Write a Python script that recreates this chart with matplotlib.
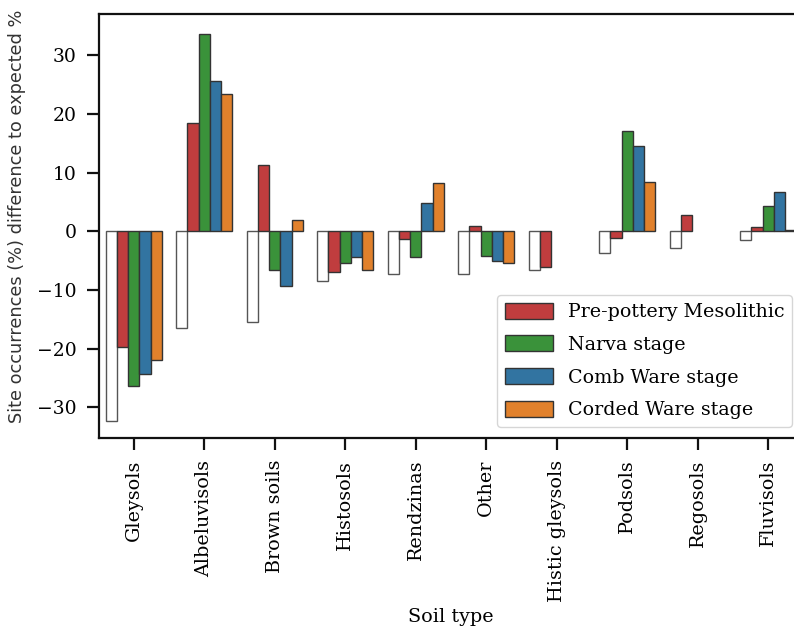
import numpy as np
import matplotlib
matplotlib.use("Agg")
import matplotlib.pyplot as plt

soil_types = ["Gleysols", "Albeluvisols", "Brown soils", "Histosols", "Rendzinas",
              "Other", "Histic gleysols", "Podsols", "Regosols", "Fluvisols"]
expected = [-32.3, -16.4, -15.5, -8.4, -7.2, -7.2, -6.5, -3.7, -2.8, -1.4]
pre_pottery = [-19.7, 18.5, 11.4, -6.9, -1.3, 1.0, -6.1, -1.1, 2.8, 0.7]
narva = [-26.3, 33.7, -6.5, -5.4, -4.3, -4.2, np.nan, 17.1, np.nan, 4.4]
comb_ware = [-24.3, 25.7, -9.3, -4.3, 4.8, -5.1, np.nan, 14.5, np.nan, 6.7]
corded_ware = [-21.9, 23.4, 1.9, -6.5, 8.3, -5.4, np.nan, 8.4, np.nan, 0.2]
legend_labels = ["Pre-pottery Mesolithic", "Narva stage", "Comb Ware stage", "Corded Ware stage"]
yticks = [-30, -20, -10, 0, 10, 20, 30]

series = [expected, pre_pottery, narva, comb_ware, corded_ware]
colors = ["white", "#c03d3e", "#3a923a", "#3274a1", "#e1812c"]
edges = ["#555555", "#333333", "#333333", "#333333", "#333333"]

serif = "DejaVu Serif"
fig = plt.figure(figsize=(7.94, 6.29), dpi=100)
ax = fig.add_axes([98.5 / 794, 1 - 438 / 629, 705 / 794, 424 / 629])

x = np.arange(len(soil_types))
n = len(series)
w = 0.8 / n
handles = []
for i, (vals, c, ec) in enumerate(zip(series, colors, edges)):
    off = -0.4 + w * (i + 0.5)
    b = ax.bar(x + off, vals, width=w, color=c, edgecolor=ec, linewidth=1.0)
    handles.append(b)

ax.set_xlim(-0.5, len(soil_types) - 0.5)
ax.set_ylim(-35.2, 37.05)
ax.set_yticks(yticks)
ax.set_xticks(x)
ax.set_xticklabels(soil_types, rotation=90, family=serif, fontsize=13.8)
for lab in ax.get_yticklabels():
    lab.set_family(serif)
    lab.set_fontsize(13.5)
ax.tick_params(axis="both", length=8.6, width=1.6, color="#111111", pad=7)
for s in ax.spines.values():
    s.set_linewidth(1.6)
    s.set_color("#111111")

fig.text(451 / 794, 1 - 617 / 629, "Soil type", family=serif, fontsize=13.8,
         ha="center", va="center")
fig.text(17 / 794, 1 - 216 / 629, "Site occurrences (%) difference to expected %",
         family="DejaVu Sans", fontsize=12.8, color="#333333", rotation=90,
         ha="center", va="center")

leg = ax.legend(handles[1:], legend_labels, loc="lower right",
                bbox_to_anchor=(792 / 794, (629 - 427) / 629),
                bbox_transform=fig.transFigure, borderaxespad=0,
                prop={"family": serif, "size": 13.7}, handlelength=2.5,
                handleheight=0.9, labelspacing=0.75, fancybox=True, framealpha=0.8,
                edgecolor="#cccccc")

fig.savefig("out.png", dpi=100)
